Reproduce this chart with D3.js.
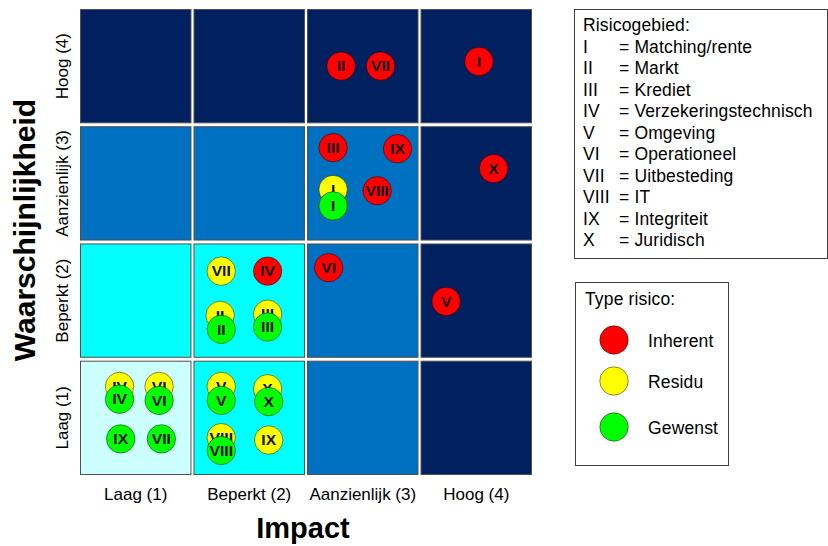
<!DOCTYPE html>
<html>
<head>
<meta charset="utf-8">
<script src="https://cdn.jsdelivr.net/npm/d3@7"></script>
<style>
  html, body { margin: 0; padding: 0; background: #fff; }
  svg { display: block; font-family: Arial, "Liberation Sans", sans-serif; }
</style>
</head>
<body>
<svg id="chart" width="828" height="546"></svg>
<script>
// ---------- data ----------
const levels = ["Laag (1)", "Beperkt (2)", "Aanzienlijk (3)", "Hoog (4)"];
const levelValues = [1, 2, 3, 4];
// cell zone per [likelihood][impact] (likelihood 1..4 rows, impact 1..4 cols)
const cellZones = [
  [0, 1, 2, 3],   // Laag (1)
  [1, 1, 2, 3],   // Beperkt (2)
  [2, 2, 2, 3],   // Aanzienlijk (3)
  [3, 3, 3, 3]    // Hoog (4)
];
const zoneColors = ["#CCFFFF", "#00FFFF", "#0070C0", "#002060"];

const areaNumerals = ["I", "II", "III", "IV", "V", "VI", "VII", "VIII", "IX", "X"];
const areaNames = ["Matching/rente", "Markt", "Krediet", "Verzekeringstechnisch", "Omgeving",
                   "Operationeel", "Uitbesteding", "IT", "Integriteit", "Juridisch"];

const riskTypes = ["Inherent", "Residu", "Gewenst"];
const riskColors = ["#FF0000", "#FFFF00", "#00FF00"];

// [label, impact, likelihood]
const inherent = [
  ["II", 2.81, 4.01], ["VII", 3.16, 4.01], ["I", 4.03, 4.05],
  ["III", 2.74, 3.31], ["IX", 3.31, 3.30], ["X", 4.16, 3.13], ["VIII", 3.13, 2.94],
  ["IV", 2.16, 2.25], ["VI", 2.70, 2.28], ["V", 3.74, 1.99]
];
const residu = [
  ["I", 2.74, 2.95],
  ["VII", 1.75, 2.25], ["II", 1.74, 1.87], ["III", 2.16, 1.88],
  ["IV", 0.85, 1.26], ["VI", 1.20, 1.26],
  ["V", 1.75, 1.26], ["X", 2.16, 1.24], ["VIII", 1.75, 0.82], ["IX", 2.17, 0.80]
];
const gewenst = [
  ["I", 2.74, 2.81],
  ["II", 1.75, 1.75], ["III", 2.16, 1.77],
  ["IV", 0.85, 1.15], ["VI", 1.20, 1.14], ["IX", 0.86, 0.81], ["VII", 1.22, 0.81],
  ["V", 1.75, 1.14], ["X", 2.17, 1.13], ["VIII", 1.75, 0.71]
];
const series = [inherent, residu, gewenst];

// ---------- layout ----------
const svg = d3.select("#chart");
const plot = { left: 80, right: 532, top: 9, bottom: 475 };

const xBand = d3.scaleBand().domain(levelValues).range([plot.left, plot.right]).paddingInner(0.018);
const yBand = d3.scaleBand().domain(levelValues.slice().reverse()).range([plot.top, plot.bottom]).paddingInner(0.025);
const x = d3.scaleLinear().domain([0.5, 4.5]).range([plot.left, plot.right]);
const y = d3.scaleLinear().domain([0.5, 4.5]).range([plot.bottom, plot.top]);
const zoneColor = d3.scaleOrdinal().domain([0, 1, 2, 3]).range(zoneColors);
const typeColor = d3.scaleOrdinal().domain(riskTypes).range(riskColors);

// cells
const cells = [];
levelValues.forEach((lk, i) => levelValues.forEach((im, j) => cells.push({ lk, im, zone: cellZones[i][j] })));
svg.append("g").selectAll("rect").data(cells).join("rect")
  .attr("x", d => xBand(d.im) + 0.5)
  .attr("y", d => yBand(d.lk) + 0.5)
  .attr("width", xBand.bandwidth() - 1)
  .attr("height", yBand.bandwidth() - 1)
  .attr("fill", d => zoneColor(d.zone))
  .attr("stroke", "#505050")
  .attr("stroke-width", 1);

// axes
const xAxis = d3.axisBottom(xBand).tickSize(0).tickFormat((d, i) => levels[i]);
const gx = svg.append("g").attr("transform", `translate(0,${plot.bottom})`).call(xAxis);
gx.select(".domain").remove();
gx.selectAll("text").attr("font-size", 17).attr("font-family", "Arial, 'Liberation Sans', sans-serif")
  .attr("fill", "#000").attr("y", 13).attr("dy", "0.71em");

const yAxis = d3.axisLeft(yBand).tickSize(0).tickFormat(d => levels[d - 1]);
const gy = svg.append("g").attr("transform", `translate(${plot.left},0)`).call(yAxis);
gy.select(".domain").remove();
gy.selectAll("text")
  .attr("font-size", 17).attr("font-family", "Arial, 'Liberation Sans', sans-serif").attr("fill", "#000")
  .attr("text-anchor", "middle").attr("x", 0).attr("dy", 0)
  .attr("transform", "translate(-12,0) rotate(-90)");

// axis titles
svg.append("text").attr("x", (plot.left + plot.right) / 2 - 3).attr("y", 538)
  .attr("text-anchor", "middle").attr("font-size", 29).attr("font-weight", "bold").text("Impact");
svg.append("text").attr("transform", "translate(35,230) rotate(-90)")
  .attr("text-anchor", "middle").attr("font-size", 30).attr("font-weight", "bold").text("Waarschijnlijkheid");

// bubbles
const r = 14.2;
series.forEach((s, si) => {
  const g = svg.append("g");
  const b = g.selectAll("g").data(s).join("g")
    .attr("transform", d => `translate(${x(d[1])},${y(d[2])})`);
  b.append("circle").attr("r", r).attr("fill", typeColor(riskTypes[si]))
    .attr("stroke", "#000").attr("stroke-opacity", 0.45).attr("stroke-width", 1);
  b.append("text").attr("text-anchor", "middle").attr("dy", "0.36em")
    .attr("font-size", 14.5).attr("font-weight", "bold").attr("fill", "#111")
    .attr("transform", "scale(1.08,1)")
    .text(d => d[0]);
});

// legend 1: risk areas
const legFont = 17.5, legSpacing = 0.15;
const l1 = svg.append("g");
l1.append("rect").attr("x", 574.5).attr("y", 9.5).attr("width", 253).attr("height", 249)
  .attr("fill", "#fff").attr("stroke", "#404040").attr("stroke-width", 1);
l1.append("text").attr("x", 583).attr("y", 31).attr("font-size", legFont).attr("letter-spacing", legSpacing).text("Risicogebied:");
areaNumerals.forEach((n, i) => {
  const yy = 31 + (i + 1) * 21.5;
  l1.append("text").attr("x", 583).attr("y", yy).attr("font-size", legFont).attr("letter-spacing", legSpacing).text(n);
  l1.append("text").attr("x", 619).attr("y", yy).attr("font-size", legFont).attr("letter-spacing", legSpacing).text("= " + areaNames[i]);
});

// legend 2: risk types
const l2 = svg.append("g");
l2.append("rect").attr("x", 575.5).attr("y", 282.5).attr("width", 153).attr("height", 183)
  .attr("fill", "#fff").attr("stroke", "#404040").attr("stroke-width", 1);
l2.append("text").attr("x", 585).attr("y", 305).attr("font-size", legFont).attr("letter-spacing", legSpacing).text("Type risico:");
const legY = [340, 381, 427];
riskTypes.forEach((t, i) => {
  l2.append("circle").attr("cx", 614).attr("cy", legY[i]).attr("r", r)
    .attr("fill", typeColor(t)).attr("stroke", "#000").attr("stroke-opacity", 0.45);
  l2.append("text").attr("x", 648).attr("y", legY[i] + 7).attr("font-size", legFont).attr("letter-spacing", legSpacing).text(t);
});
</script>
</body>
</html>
